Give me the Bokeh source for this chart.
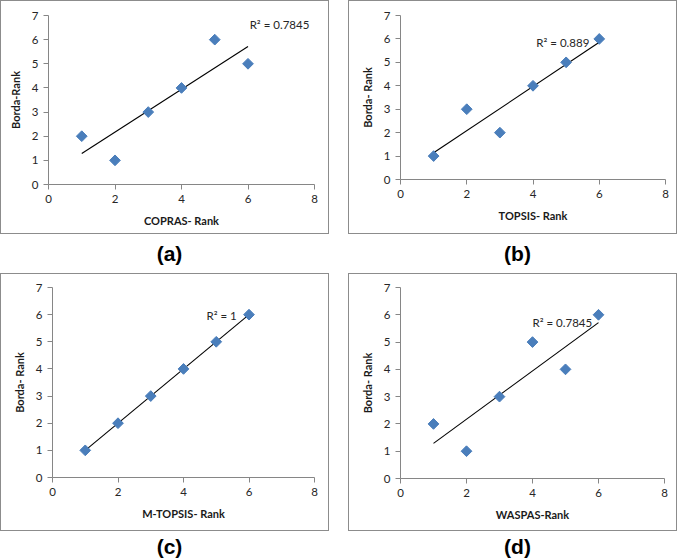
import numpy as np
from bokeh.plotting import figure
from bokeh.models import Label, Div, Spacer, ColumnDataSource
from bokeh.layouts import column, row
from bokeh.embed import file_html
from bokeh.resources import INLINE

# ---- data ----
rank_x = [1, 2, 3, 4, 5, 6]
borda_copras = [2, 1, 3, 4, 6, 5]
borda_topsis = [1, 3, 2, 4, 5, 6]
borda_mtopsis = [1, 2, 3, 4, 5, 6]
borda_waspas = [2, 1, 3, 5, 4, 6]

x_titles = ["COPRAS- Rank", "TOPSIS- Rank", "M-TOPSIS- Rank", "WASPAS-Rank"]
y_titles = ["Borda-Rank", "Borda- Rank", "Borda- Rank", "Borda- Rank"]
r2_texts = ["R\u00b2 = 0.7845", "R\u00b2 = 0.889", "R\u00b2 = 1", "R\u00b2 = 0.7845"]
panel_tags = ["(a)", "(b)", "(c)", "(d)"]
x_ticks = [0, 2, 4, 6, 8]
y_ticks = [0, 1, 2, 3, 4, 5, 6, 7]

FONT = "Lato"
AX = "#868686"
BLUE = "#4a7ebb"


def make_panel(xs, ys, xlab, ylab, r2, r2_pos, w, h, borders):
    L, R, T, B = borders
    p = figure(width=w, height=h, x_range=(0, 8), y_range=(0, 7),
               output_backend="svg", toolbar_location=None,
               min_border_left=L, min_border_right=R,
               min_border_top=T, min_border_bottom=B)
    p.xgrid.visible = False
    p.ygrid.visible = False
    p.outline_line_color = None
    p.background_fill_color = "white"
    p.border_fill_color = "white"
    p.xaxis.ticker = x_ticks
    p.yaxis.ticker = y_ticks
    for ax in (p.xaxis[0], p.yaxis[0]):
        ax.axis_line_color = AX
        ax.major_tick_line_color = AX
        ax.major_tick_out = 5
        ax.major_tick_in = 0
        ax.minor_tick_line_color = None
        ax.major_label_text_font = FONT
        ax.major_label_text_font_size = "11.5px"
        ax.major_label_text_color = "#262626"
        ax.major_label_standoff = 5
        ax.axis_label_text_font = FONT
        ax.axis_label_text_font_size = "11px"
        ax.axis_label_text_font_style = "bold"
        ax.axis_label_text_color = "#1a1a1a"
    p.xaxis.axis_label = xlab
    p.yaxis.axis_label = ylab
    p.xaxis.axis_label_standoff = 8
    p.yaxis.axis_label_standoff = 7

    # linear trendline fitted to the data
    slope, icpt = np.polyfit(xs, ys, 1)
    lx = [min(xs), max(xs)]
    ly = [slope * v + icpt for v in lx]
    p.line(lx, ly, line_color="black", line_width=1.1)

    src = ColumnDataSource(dict(x=xs, y=ys))
    p.scatter("x", "y", source=src, marker="square", angle=np.pi / 4,
              size=7.6, fill_color=BLUE, line_color=BLUE)

    p.add_layout(Label(x=r2_pos[0], y=r2_pos[1], text=r2,
                       text_font=FONT, text_font_size="11.5px",
                       text_color="#262626", text_baseline="middle"))
    p.styles = {"border": "1px solid #8c8c8c", "box-sizing": "border-box"}
    return p


def tag(text, w, h):
    return Div(text=text, width=w, height=h,
               styles={"text-align": "center", "font-size": "21px",
                       "font-weight": "bold", "font-family": "Liberation Sans, Arial",
                       "line-height": f"{h}px", "width": f"{w}px"})


W = 329
H_TOP = 234
H_BOT = 258

pa = make_panel(rank_x, borda_copras, x_titles[0], y_titles[0], r2_texts[0],
                (6.05, 6.62), W, H_TOP, (47, 16, 14, 51))
pb = make_panel(rank_x, borda_topsis, x_titles[1], y_titles[1], r2_texts[1],
                (4.1, 5.85), W, H_TOP, (51, 13, 14, 56))
pc = make_panel(rank_x, borda_mtopsis, x_titles[2], y_titles[2], r2_texts[2],
                (4.7, 5.98), W, H_BOT, (51, 16, 13, 55))
pd = make_panel(rank_x, borda_waspas, x_titles[3], y_titles[3], r2_texts[3],
                (4.0, 5.7), W, H_BOT, (51, 14, 13, 54))

layout = column(
    row(column(pa, tag(panel_tags[0], W, 29)), Spacer(width=9),
        column(pb, tag(panel_tags[1], W, 29))),
    row(column(pc, tag(panel_tags[2], W, 22)), Spacer(width=9),
        column(pd, tag(panel_tags[3], W, 22))),
)

open("out.html", "w").write(file_html(layout, INLINE))
